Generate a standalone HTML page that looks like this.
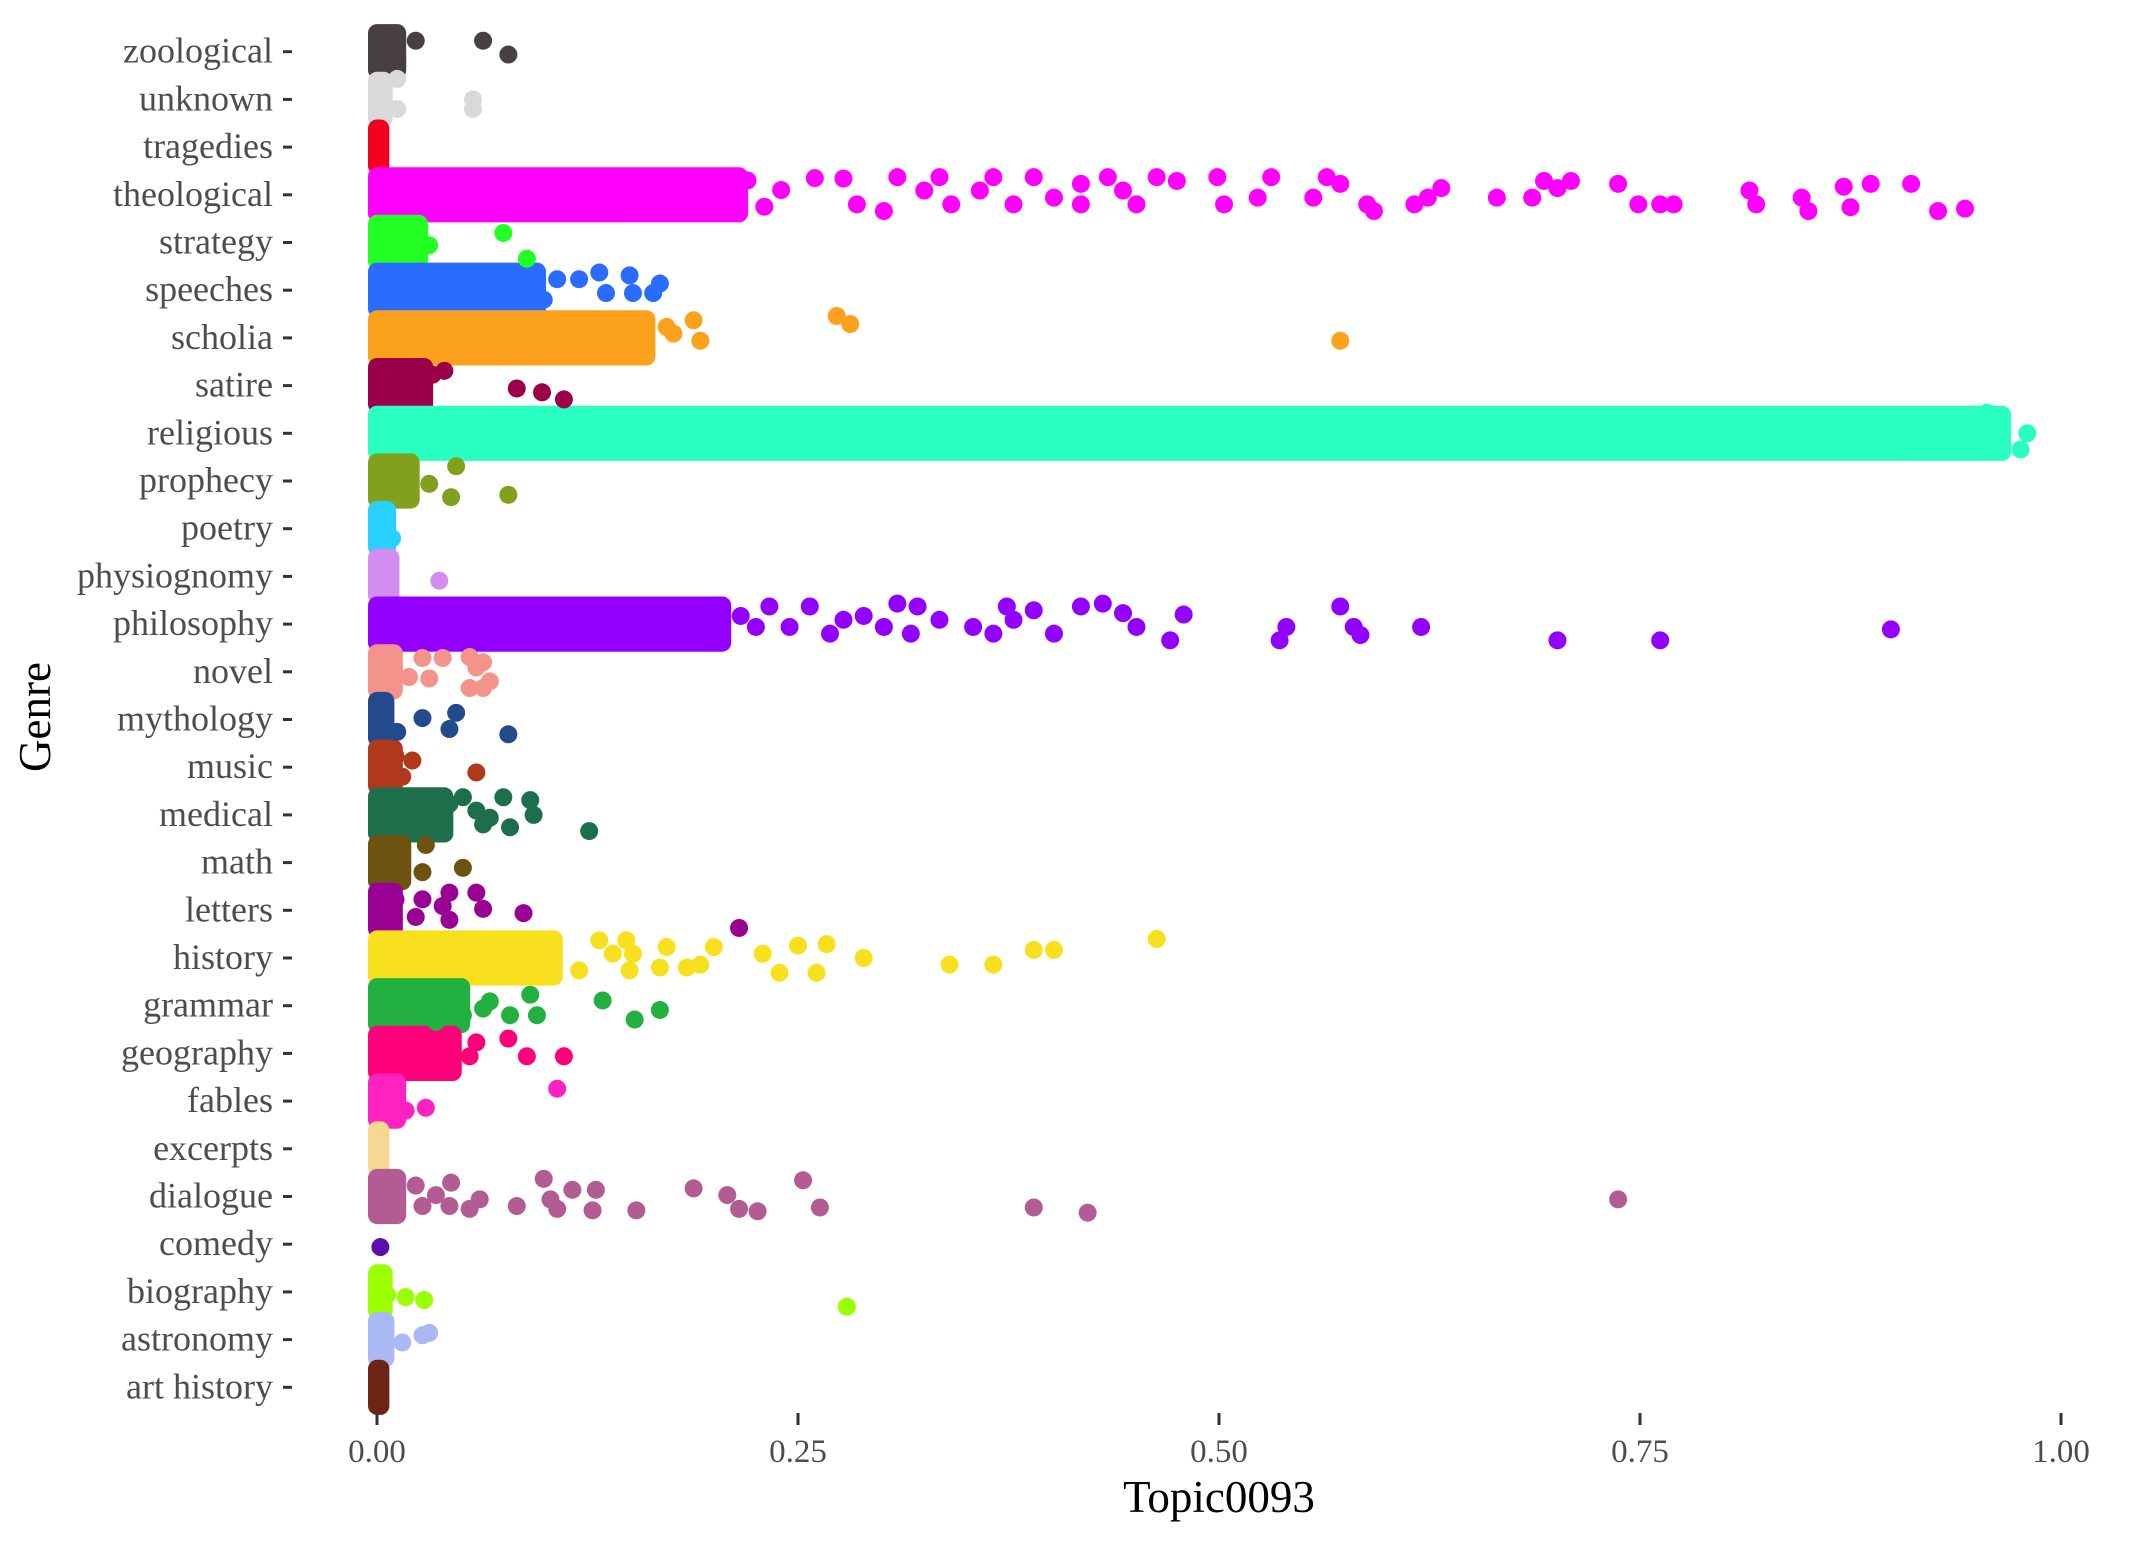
<!DOCTYPE html>
<html><head><meta charset="utf-8"><style>
html,body{margin:0;padding:0;background:#fff}
svg{display:block}
text{font-family:"Liberation Serif",serif}
</style></head><body>
<svg id="chart" width="2133" height="1541" viewBox="0 0 2133 1541" xmlns="http://www.w3.org/2000/svg">
<g id="bands"></g>
<g id="points"></g>
<g id="yaxis"></g>
<g id="xaxis"></g>
<text x="0" y="0" transform="translate(50,717) rotate(-90)" text-anchor="middle" font-size="45" fill="#000">Genre</text>
<text x="1219" y="1512" text-anchor="middle" font-size="45" fill="#000">Topic0093</text>
</svg>
<script>
const genres=["zoological","unknown","tragedies","theological","strategy","speeches","scholia","satire","religious","prophecy","poetry","physiognomy","philosophy","novel","mythology","music","medical","math","letters","history","grammar","geography","fables","excerpts","dialogue","comedy","biography","astronomy","art history"];
const colors=["#483f44","#d9d9d9","#f0001c","#ff00ff","#22ff22","#2a6cff","#fba11b","#9b004b","#29ffc0","#81a01b","#2ad0ff","#d48cf0","#9400ff","#f4928c","#234a8c","#b2381c","#1c6f4a","#6d5210","#9b0094","#f8e01e","#22b140","#ff007a","#ff22c0","#f7d890","#b35c94","#5b0fb0","#9aff00","#aab8f6","#6d2415"];
// dense-region maximum value per genre (points packed from 0 to this value)
const bandMax=[0.012,0.004,0.002,0.215,0.025,0.095,0.16,0.028,0.965,0.02,0.006,0.008,0.205,0.01,0.005,0.01,0.04,0.015,0.01,0.105,0.05,0.045,0.012,0.002,0.012,-1,0.004,0.005,0.002];
const xTicks=[0,0.25,0.5,0.75,1];
const xTickLabels=["0.00","0.25","0.50","0.75","1.00"];
// individual points: [genre index, Topic0093 value, jitter (fraction of row)]
const pts=[
[0,.023,-.23],[0,.063,-.23],[0,.078,.06],[0,.011,-.09],[0,.012,.2],
[1,.012,-.43],[1,.012,.2],[1,.057,0],[1,.057,.2],
[3,.22,-.3],[3,.23,.25],[3,.24,-.1],[3,.26,-.35],[3,.277,-.34],[3,.285,.2],[3,.301,.34],[3,.309,-.37],[3,.325,-.09],[3,.334,-.37],[3,.341,.2],[3,.358,-.09],[3,.366,-.37],[3,.378,.2],[3,.39,-.37],[3,.402,.06],[3,.418,.2],[3,.418,-.23],[3,.434,-.37],[3,.443,-.09],[3,.451,.2],[3,.463,-.37],[3,.475,-.29],[3,.499,-.37],[3,.503,.2],[3,.523,.06],[3,.531,-.37],[3,.556,.06],[3,.564,-.37],[3,.572,-.23],[3,.588,.2],[3,.592,.34],[3,.616,.2],[3,.624,.06],[3,.632,-.14],[3,.665,.06],[3,.686,.06],[3,.693,-.29],[3,.701,-.14],[3,.709,-.29],[3,.737,-.23],[3,.749,.2],[3,.762,.2],[3,.77,.2],[3,.815,-.09],[3,.819,.2],[3,.846,.06],[3,.85,.34],[3,.871,-.17],[3,.875,.26],[3,.887,-.23],[3,.911,-.23],[3,.927,.34],[3,.943,.29],
[4,.075,-.2],[4,.089,.34],[4,.031,.06],[4,.023,-.29],
[5,.107,-.23],[5,.12,-.23],[5,.132,-.37],[5,.136,.06],[5,.15,-.31],[5,.152,.06],[5,.168,-.14],[5,.164,.06],[5,.095,-.23],[5,.099,.2],[5,.079,0],
[6,.148,-.23],[6,.156,-.31],[6,.172,-.23],[6,.176,-.09],[6,.188,-.37],[6,.192,.06],[6,.125,.2],[6,.14,.14],[6,.273,-.46],[6,.281,-.29],[6,.572,.06],[6,.116,-.37],[6,.103,.2],
[7,.04,-.31],[7,.083,.06],[7,.098,.14],[7,.111,.29],[7,.027,.06],[7,.033,-.23],
[8,.976,.34],[8,.98,0],[8,.964,-.23],[8,.956,-.43],
[9,.047,-.31],[9,.031,.06],[9,.044,.34],[9,.078,.29],[9,.019,-.23],
[10,.009,.2],
[11,.037,.09],[11,.008,-.31],
[12,.216,-.17],[12,.233,-.37],[12,.245,.06],[12,.257,-.37],[12,.269,.2],[12,.277,-.09],[12,.289,-.17],[12,.301,.06],[12,.309,-.43],[12,.317,.2],[12,.321,-.37],[12,.334,-.09],[12,.354,.06],[12,.374,-.37],[12,.378,-.09],[12,.39,-.29],[12,.402,.2],[12,.418,-.37],[12,.431,-.43],[12,.443,-.23],[12,.451,.06],[12,.471,.34],[12,.479,-.2],[12,.536,.34],[12,.54,.06],[12,.572,-.37],[12,.58,.06],[12,.584,.23],[12,.62,.06],[12,.701,.34],[12,.762,.34],[12,.899,.11],[12,.366,.2],[12,.225,.06],
[13,.027,-.29],[13,.039,-.29],[13,.055,-.31],[13,.063,-.2],[13,.067,.2],[13,.059,-.09],[13,.063,.34],[13,.011,.06],[13,.019,.11],[13,.055,.34],[13,.031,.14],
[14,.027,-.03],[14,.047,-.14],[14,.043,.2],[14,.078,.31],[14,.012,.26],
[15,.021,-.14],[15,.059,.11],[15,.011,-.23],[15,.015,.2],
[16,.051,-.37],[16,.059,-.09],[16,.063,.2],[16,.075,-.37],[16,.079,.26],[16,.091,-.31],[16,.093,0],[16,.126,.34],[16,.067,.06],[16,.035,.2],[16,.043,-.23],
[17,.029,-.37],[17,.051,.11],[17,.027,.2],
[18,.011,-.23],[18,.027,-.23],[18,.039,-.09],[18,.043,-.37],[18,.059,-.37],[18,.063,-.03],[18,.087,.06],[18,.023,.14],[18,.043,.2],[18,.215,.37],
[19,.132,-.37],[19,.148,-.37],[19,.152,-.09],[19,.172,-.23],[19,.184,.2],[19,.192,.14],[19,.2,-.23],[19,.229,-.09],[19,.239,.31],[19,.25,-.26],[19,.261,.31],[19,.267,-.29],[19,.289,0],[19,.34,.14],[19,.366,.14],[19,.39,-.17],[19,.402,-.17],[19,.463,-.4],[19,.12,.26],[19,.15,.26],[19,.168,.2],[19,.14,-.09],
[20,.063,.06],[20,.079,.2],[20,.091,-.23],[20,.095,.2],[20,.134,-.11],[20,.153,.29],[20,.168,.09],[20,.035,.34],[20,.051,.2],[20,.067,-.09],
[21,.055,.06],[21,.059,-.23],[21,.078,-.31],[21,.089,.06],[21,.111,.06],[21,.043,-.09],
[22,.029,.14],[22,.017,.2],[22,.107,-.26],
[24,.023,-.23],[24,.035,-.03],[24,.044,-.29],[24,.055,.26],[24,.061,.06],[24,.083,.2],[24,.099,-.37],[24,.103,.06],[24,.107,.26],[24,.116,-.14],[24,.13,-.14],[24,.128,.29],[24,.154,.29],[24,.188,-.17],[24,.208,-.03],[24,.215,.26],[24,.226,.31],[24,.253,-.34],[24,.263,.23],[24,.39,.23],[24,.422,.34],[24,.737,.06],[24,.043,.2],[24,.027,.2],
[25,.002,.06],
[26,.017,.11],[26,.028,.17],[26,.279,.31],[26,.006,.06],
[27,.015,.06],[27,.027,-.09],[27,.031,-.14]
];
const NS="http://www.w3.org/2000/svg";
const X0=377,X1=2061,Y0=51.7,STEP=47.7,R=9,JIT=0.39;
const xs=v=>X0+(X1-X0)*v;
const ys=i=>Y0+i*STEP;
function mk(tag,attrs,parent){const e=document.createElementNS(NS,tag);for(const k in attrs)e.setAttribute(k,attrs[k]);parent.appendChild(e);return e;}
const gB=document.getElementById('bands'),gP=document.getElementById('points'),gY=document.getElementById('yaxis'),gX=document.getElementById('xaxis');
genres.forEach((g,i)=>{
  const cy=ys(i);
  if(bandMax[i]>=0){
    const x0=xs(0)-R,x1=xs(bandMax[i])+R,h=2*(JIT*STEP)+2*R;
    const b=mk('rect',{x:x0,y:cy-h/2,width:x1-x0,height:h,rx:R,ry:R,fill:colors[i]},gB);
    
    
  }
  const t=mk('text',{x:273,y:cy+11,'text-anchor':'end','font-size':36,fill:'#4d4d4d'},gY);
  t.textContent=g;
  
  
  const tk=mk('line',{x1:283,x2:292,y1:cy,y2:cy,stroke:'#333','stroke-width':3},gY);
  
  
});
pts.forEach(p=>{
  const c=mk('circle',{cx:xs(p[1]),cy:ys(p[0])+p[2]*STEP,r:R,fill:colors[p[0]]},gP);
  
  
});
xTicks.forEach((v,k)=>{
  const tk=mk('line',{x1:xs(v),x2:xs(v),y1:1413,y2:1425,stroke:'#333','stroke-width':3},gX);
  
  
  const t=mk('text',{x:xs(v),y:1462,'text-anchor':'middle','font-size':33,fill:'#4d4d4d'},gX);
  t.textContent=xTickLabels[k];
  
  
});
</script>
</body></html>
